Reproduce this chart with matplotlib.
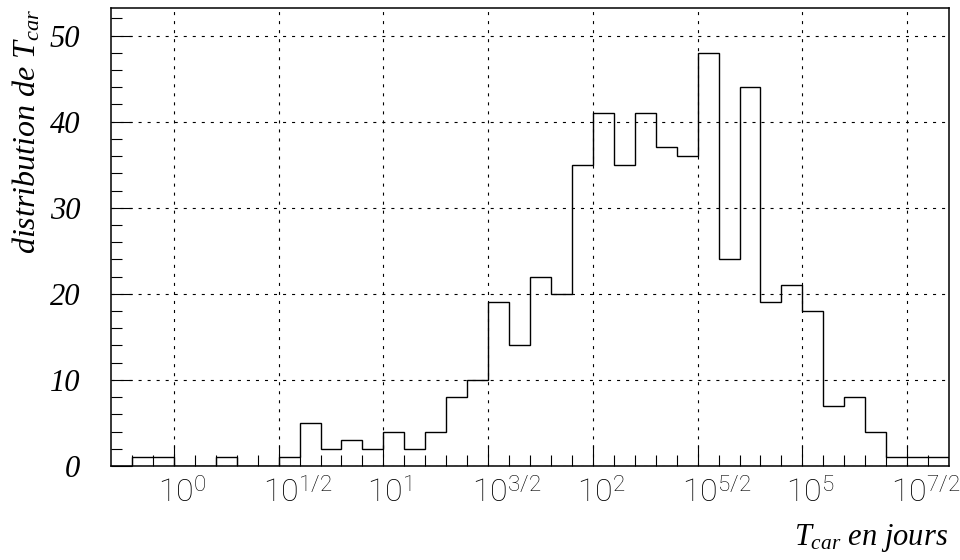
import numpy as np
import matplotlib
matplotlib.use('Agg')
import matplotlib.pyplot as plt
from matplotlib.transforms import ScaledTranslation

plt.rcParams['mathtext.fontset'] = 'custom'
plt.rcParams['mathtext.rm'] = 'Roboto:light'
plt.rcParams['mathtext.it'] = 'Liberation Serif:italic'
plt.rcParams['lines.scale_dashes'] = False

# histogram of log10(T_car), 40 bins from 10^-0.3 to 10^3.7
log_lo, log_hi = -0.3, 3.7
counts = [0, 1, 1, 0, 0, 1, 0, 0, 1, 5,
          2, 3, 2, 4, 2, 4, 8, 10, 19, 14,
          22, 20, 35, 41, 35, 41, 37, 36, 48, 24,
          44, 19, 21, 18, 7, 8, 4, 1, 1, 1]
tick_pos = [0, 0.5, 1, 1.5, 2, 2.5, 3, 3.5]
tick_lab = ['$10^{0}$', '$10^{1/2}$', '$10^{1}$', '$10^{3/2}$',
            '$10^{2}$', '$10^{5/2}$', '$10^{5}$', '$10^{7/2}$']
y_ticks = [0, 10, 20, 30, 40, 50]

edges = np.linspace(log_lo, log_hi, len(counts) + 1)

fig = plt.figure(figsize=(9.6, 5.6), dpi=100)
ax = fig.add_axes([111/960, 94/560, 838/960, 458/560])

ax.stairs(counts, edges, color='black', lw=1.0, zorder=3)

ax.set_xlim(log_lo, log_hi)
ax.set_ylim(0, 53.2)

ax.set_xticks(tick_pos)
ax.set_xticklabels(tick_lab, fontsize=23, color='black')
ax.set_xticks(edges[1:-1], minor=True)
ax.set_yticks(y_ticks)
ax.set_yticks(np.arange(2, 54, 2), minor=True)
ax.set_yticklabels([str(v) for v in y_ticks], family='Liberation Serif',
                   style='italic', fontsize=22)

ax.tick_params(which='both', direction='in', top=False, right=False, width=0.8)
ax.tick_params(which='major', length=15)
ax.tick_params(which='minor', length=8)
ax.tick_params(axis='y', pad=22)
ax.tick_params(axis='x', pad=9)

for lab in ax.get_xticklabels():
    lab.set_ha('left')
    lab.set_transform(lab.get_transform() + ScaledTranslation(-0.16, 0, fig.dpi_scale_trans))

ax.grid(True, which='major', color='black', lw=0.8, ls=(0, (2.2, 4.3)))
for s in ax.spines.values():
    s.set_linewidth(1.1)

fig.text(0.028, 0.985, 'distribution de $T_{car}$', rotation=90, ha='center', va='top',
         family='Liberation Serif', style='italic', fontsize=23)
fig.text(948/960, 15/560, '$T_{car}$ en jours', ha='right', va='baseline',
         family='Liberation Serif', style='italic', fontsize=22)

fig.savefig('out.png', dpi=100)
